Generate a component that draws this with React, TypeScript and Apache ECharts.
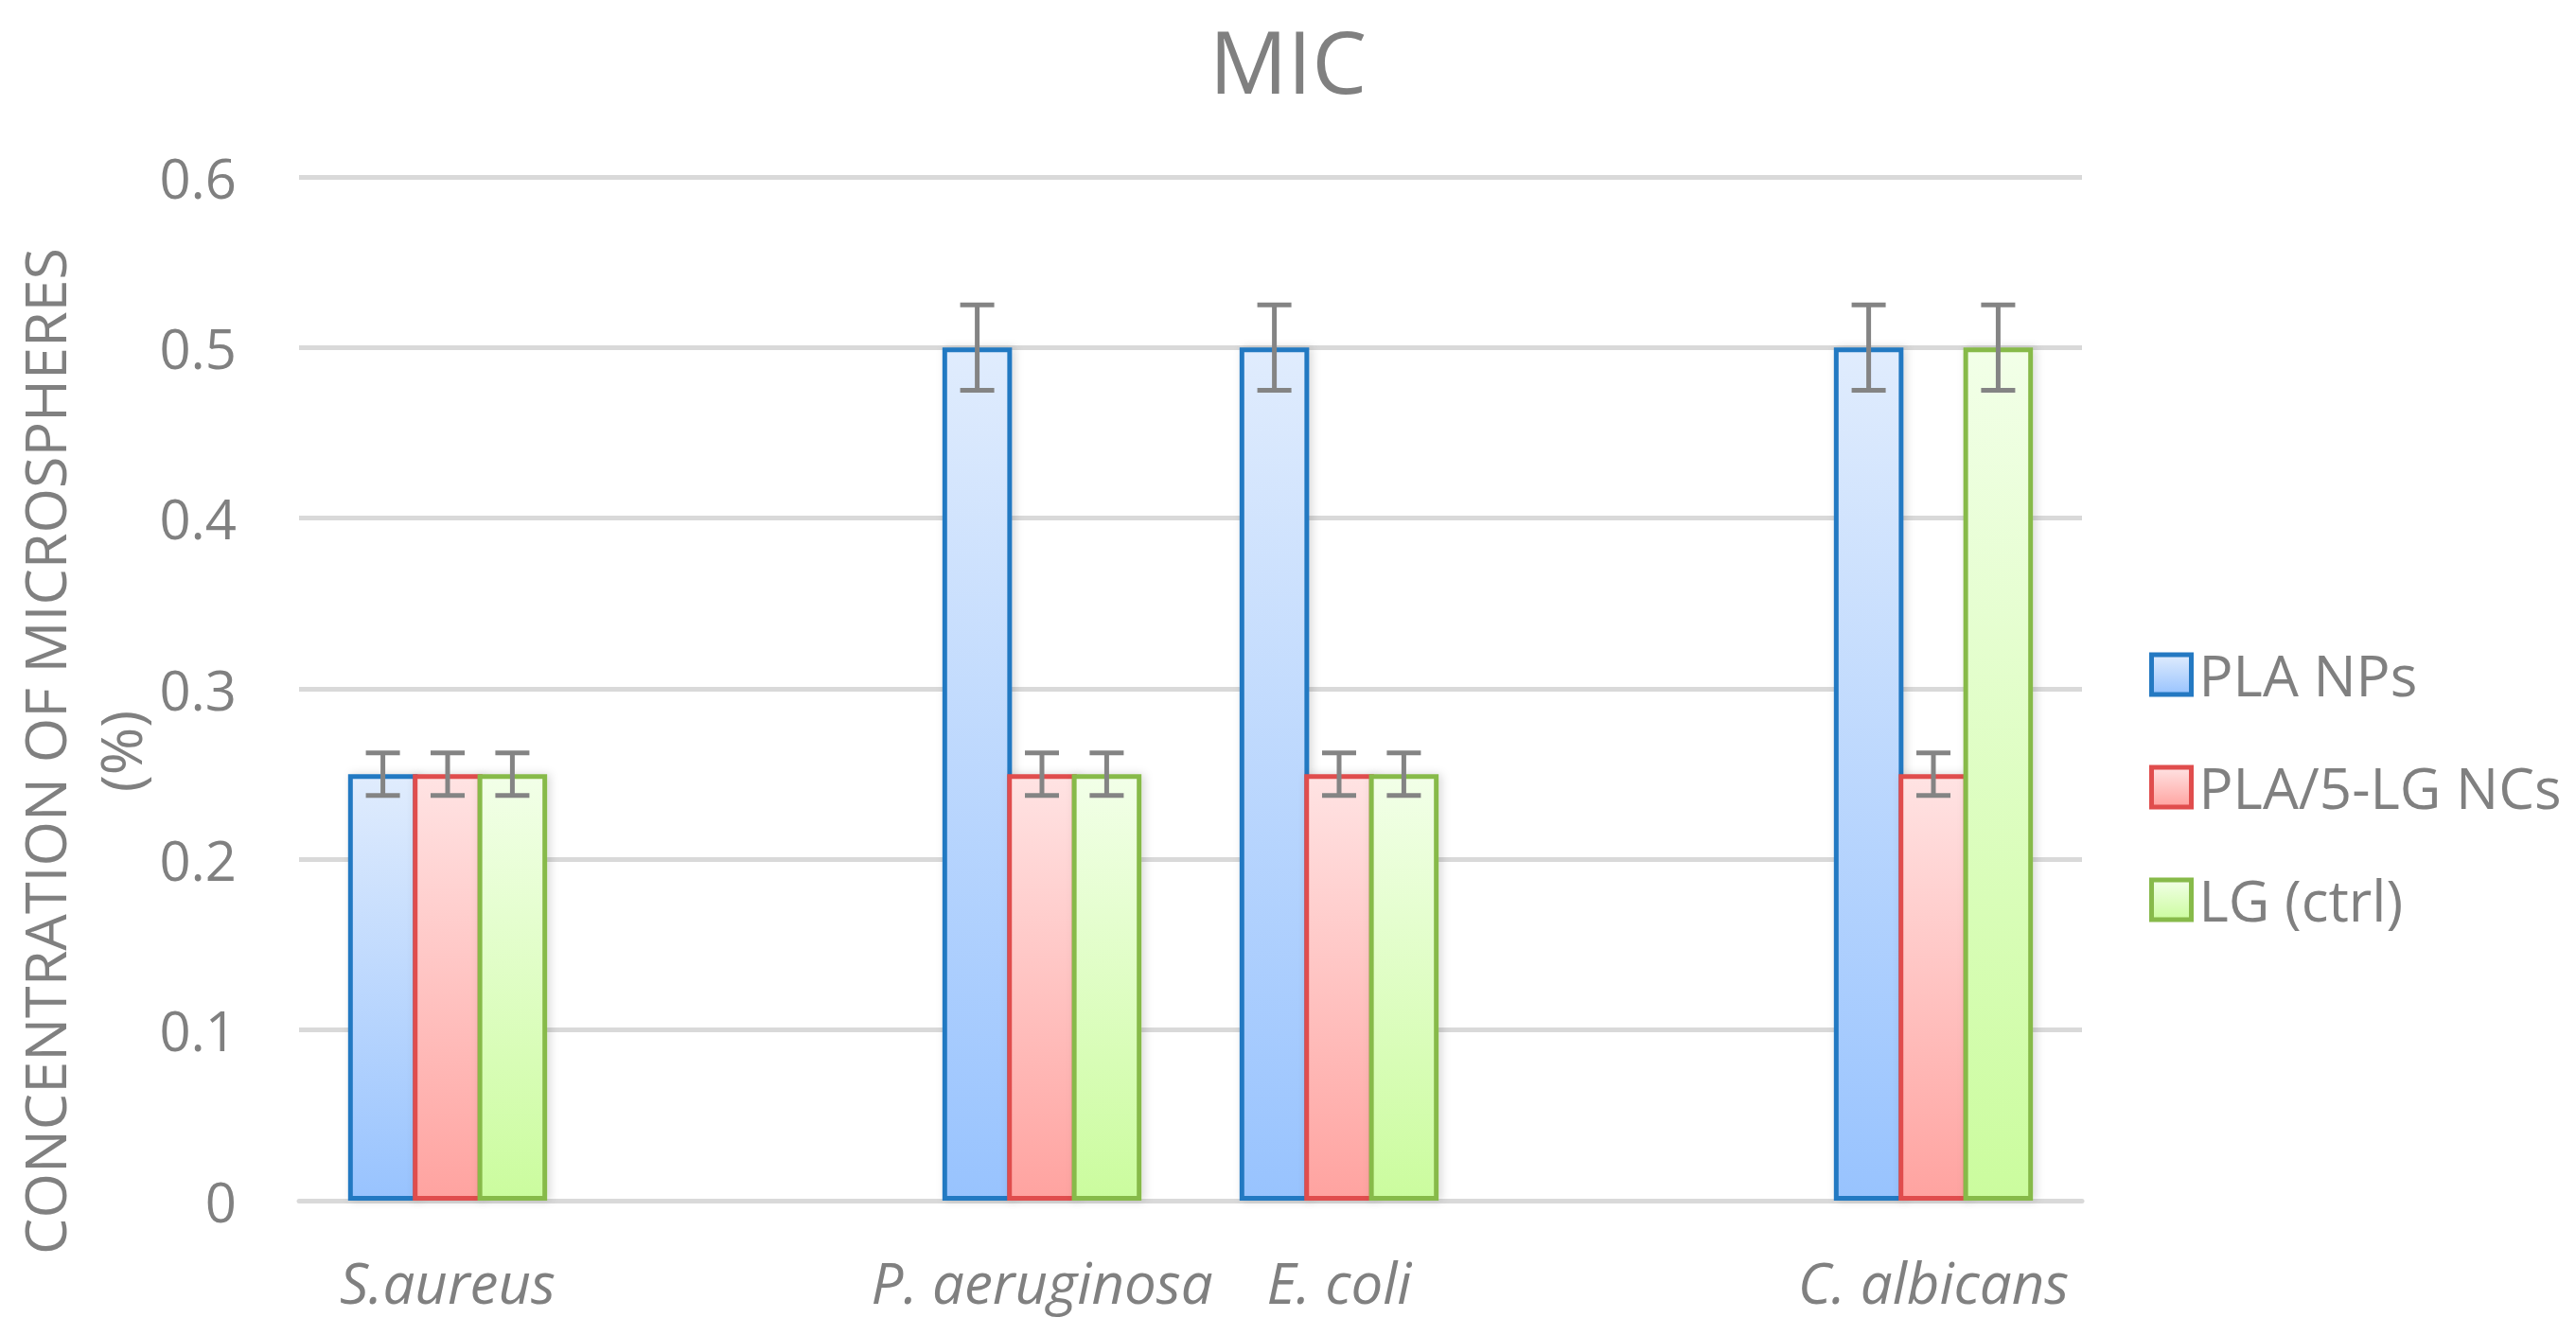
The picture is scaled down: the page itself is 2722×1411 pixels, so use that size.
import { useEffect, useRef } from 'react';
import * as echarts from 'echarts';

// categories (blank slots keep the original spacing)
const categories = ['S.aureus', '', 'P. aeruginosa', 'E. coli', '', 'C. albicans'];
const seriesNames = ['PLA NPs', 'PLA/5-LG NCs', 'LG (ctrl)'];

const plaNps = [0.25, null, 0.5, 0.5, null, 0.5];
const plaLgNcs = [0.25, null, 0.25, 0.25, null, 0.25];
const lgCtrl = [0.25, null, 0.25, 0.25, null, 0.5];

const plaNpsErr = [0.0125, null, 0.025, 0.025, null, 0.025];
const plaLgNcsErr = [0.0125, null, 0.0125, 0.0125, null, 0.0125];
const lgCtrlErr = [0.0125, null, 0.0125, 0.0125, null, 0.025];

const yTickLabels = ['0', '0.1', '0.2', '0.3', '0.4', '0.5', '0.6'];

const FONT = '"Open Sans", "Noto Sans", sans-serif';
const GREY = '#808080';
const CAT_GAP = 0.33;
const BAR_GAP = -0.07; // neighbouring bars share their border line

const palette = [
  { border: '#2479c2', top: '#e0ecfd', bottom: '#98c3fe' },
  { border: '#e04d4d', top: '#ffe3e3', bottom: '#ffa3a0' },
  { border: '#87ba4a', top: '#f2ffe8', bottom: '#cbfc9e' },
];

export default function App() {
  const chartRef = useRef<HTMLDivElement>(null);

  useEffect(() => {
    if (!chartRef.current) return;
    const chart = echarts.init(chartRef.current, undefined, { renderer: 'svg' });

    const values = [plaNps, plaLgNcs, lgCtrl];
    const errors = [plaNpsErr, plaLgNcsErr, lgCtrlErr];

    const barSeries = seriesNames.map((name, k) => ({
      name,
      type: 'bar',
      barGap: `${BAR_GAP * 100}%`,
      barCategoryGap: `${CAT_GAP * 100}%`,
      data: values[k].map(v => (v == null ? '-' : v)),
      itemStyle: {
        color: new echarts.graphic.LinearGradient(0, 0, 0, 1, [
          { offset: 0, color: palette[k].top },
          { offset: 1, color: palette[k].bottom },
        ]),
        borderColor: palette[k].border,
        borderWidth: 5,
        shadowBlur: 10,
        shadowColor: 'rgba(0,0,0,0.15)',
        shadowOffsetX: 3,
      },
    }));

    // error bars, placed over each bar of the group
    const errSeries = seriesNames.map((name, k) => ({
      name: name + ' err',
      type: 'custom',
      z: 10,
      silent: true,
      data: values[k]
        .map((v, i) => (v == null ? null : [i, v, errors[k][i]]))
        .filter(Boolean),
      renderItem: (_params: any, api: any) => {
        const i = api.value(0);
        const v = api.value(1);
        const e = api.value(2);
        const band = api.size([1, 0])[0];
        const bw = (band * (1 - CAT_GAP)) / (3 + 2 * BAR_GAP);
        const cx = api.coord([i, v])[0] + (k - 1) * bw * (1 + BAR_GAP);
        const yTop = api.coord([i, v + e])[1];
        const yBot = api.coord([i, v - e])[1];
        const style = { stroke: '#848484', lineWidth: 5 };
        return {
          type: 'group',
          children: [
            { type: 'line', shape: { x1: cx, y1: yTop, x2: cx, y2: yBot }, style },
            { type: 'line', shape: { x1: cx - 18, y1: yTop, x2: cx + 18, y2: yTop }, style },
            { type: 'line', shape: { x1: cx - 18, y1: yBot, x2: cx + 18, y2: yBot }, style },
          ],
        };
      },
    }));

    const option: echarts.EChartsOption = {
      animation: false,
      backgroundColor: '#ffffff',
      title: {
        text: 'MIC',
        left: 'center',
        top: 12,
        textStyle: { fontFamily: FONT, fontSize: 92, fontWeight: 'normal', color: GREY },
      },
      grid: { left: 316, right: 522, top: 187, bottom: 142 },
      legend: {
        orient: 'vertical',
        left: 2266,
        top: 678,
        icon: 'rect',
        itemWidth: 42,
        itemHeight: 42,
        itemGap: 59,
        data: seriesNames,
        itemStyle: { borderWidth: 5, shadowBlur: 0, shadowOffsetX: 0 },
        textStyle: {
          fontFamily: FONT,
          fontSize: 60,
          color: GREY,
          lineHeight: 42,
          padding: [0, 0, 0, 3],
        },
      },
      xAxis: {
        type: 'category',
        data: categories,
        axisTick: { show: false },
        axisLine: { lineStyle: { color: '#d9d9d9', width: 5 } },
        axisLabel: {
          interval: 0,
          margin: 56,
          fontFamily: FONT,
          fontStyle: 'italic',
          fontSize: 60,
          color: GREY,
        },
      },
      yAxis: {
        type: 'value',
        min: 0,
        max: 0.6,
        interval: 0.1,
        axisLine: { show: false },
        axisTick: { show: false },
        axisLabel: {
          margin: 66,
          fontFamily: FONT,
          fontSize: 58,
          color: GREY,
          formatter: (val: number) => yTickLabels[Math.round(val * 10)] ?? String(val),
        },
        splitLine: { lineStyle: { color: '#d9d9d9', width: 5 } },
      },
      graphic: [
        {
          type: 'text',
          x: 86,
          y: 794,
          rotation: Math.PI / 2,
          style: {
            text: 'CONCENTRATION OF MICROSPHERES\n(%)',
            fontFamily: FONT,
            fontSize: 61,
            lineHeight: 80,
            fill: GREY,
            align: 'center',
            verticalAlign: 'middle',
          },
        },
      ],
      series: [...barSeries, ...errSeries] as any,
    };

    chart.setOption(option);

    return () => {
      chart.dispose();
    };
  }, []);

  return (
    <div
      ref={chartRef}
      style={{ position: 'fixed', left: 0, top: 0, width: '2722px', height: '1411px' }}
    />
  );
}
